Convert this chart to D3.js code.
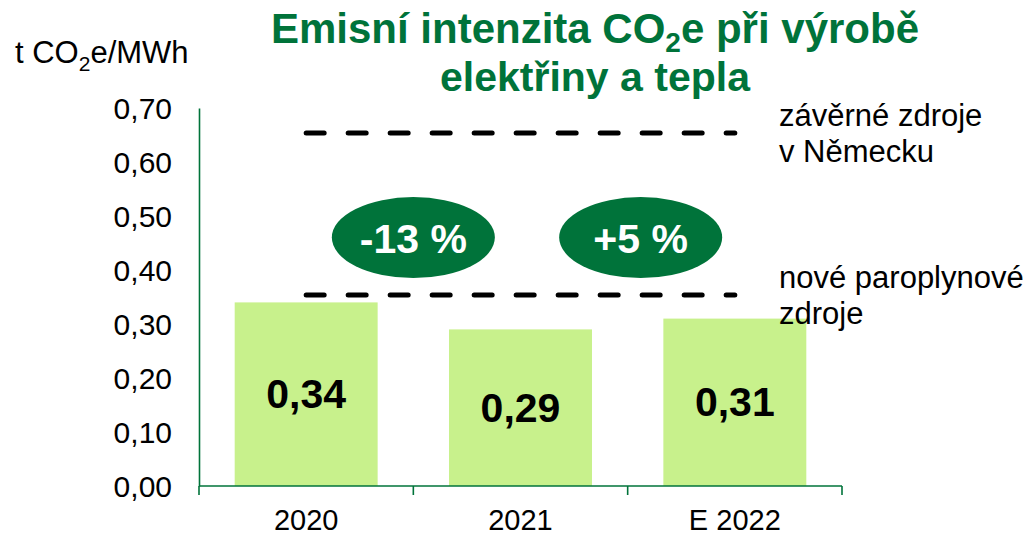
<!DOCTYPE html>
<html>
<head>
<meta charset="utf-8">
<script src="https://cdn.jsdelivr.net/npm/d3@7"></script>
<style>
  html, body { margin: 0; padding: 0; background: #fff; }
  svg { display: block; font-family: "Liberation Sans", Arial, sans-serif; }
</style>
</head>
<body>
<svg id="chart" width="1035" height="537"></svg>
<script>
// Emission intensity data (t CO2e/MWh)
const categories = ["2020", "2021", "E 2022"];
const values = [0.34, 0.29, 0.31];
const valueLabels = ["0,34", "0,29", "0,31"];
const yTicks = [0, 0.1, 0.2, 0.3, 0.4, 0.5, 0.6, 0.7];

// Benchmark levels shown as dashed lines
const refValues = [0.65, 0.35];
const refLabels = [["závěrné zdroje", "v Německu"], ["nové paroplynové", "zdroje"]];

// Year-on-year changes
const changeLabels = ["-13 %", "+5 %"];

const GREEN = "#00733A";
const BAR = "#C8F18C";

const svg = d3.select("#chart");

const x = d3.scaleBand()
  .domain(categories)
  .range([199, 842])
  .paddingInner(0.333)
  .paddingOuter(0.1665);

const y = d3.scaleLinear().domain([0, 0.7]).range([486, 108]);

// Title (two lines in one text block)
const title = svg.append("text")
  .attr("x", 595).attr("y", 43)
  .attr("text-anchor", "middle")
  .attr("font-size", 42).attr("font-weight", "bold")
  .attr("fill", GREEN);
title.append("tspan").text("Emisní intenzita CO");
title.append("tspan").attr("font-size", 28).attr("dy", 9).text("2");
title.append("tspan").attr("dy", -9).text("e při výrobě");
title.append("tspan")
  .attr("x", 595).attr("dy", 48)
  .attr("font-size", 41)
  .text("elektřiny a tepla");

// Unit label
const unit = svg.append("text")
  .attr("x", 15).attr("y", 63)
  .attr("font-size", 31).attr("fill", "#000");
unit.append("tspan").text("t CO");
unit.append("tspan").attr("font-size", 21).attr("dy", 8).text("2");
unit.append("tspan").attr("dy", -8).text("e/MWh");

// Bars
svg.append("g").selectAll("rect")
  .data(values)
  .join("rect")
  .attr("x", (d, i) => x(categories[i]))
  .attr("y", d => y(d))
  .attr("width", x.bandwidth())
  .attr("height", d => y(0) - y(d))
  .attr("fill", BAR);

// Y axis
const yAxis = svg.append("g")
  .attr("transform", "translate(199,0)")
  .call(d3.axisLeft(y)
    .tickValues(yTicks)
    .tickSize(0)
    .tickPadding(27)
    .tickFormat(d => d3.format(".2f")(d).replace(".", ",")));
yAxis.select(".domain").attr("stroke", GREEN).attr("stroke-width", 1.6);
yAxis.selectAll("text")
  .attr("font-size", 30)
  .attr("font-family", "Liberation Sans, Arial, sans-serif")
  .attr("fill", "#000")
  .attr("dy", "0.35em");

// X axis: baseline with ticks on category boundaries
const xAxis = svg.append("g").attr("transform", `translate(0,${y(0)})`);
xAxis.append("line")
  .attr("x1", x.range()[0]).attr("x2", x.range()[1])
  .attr("stroke", GREEN).attr("stroke-width", 1.6);
const bounds = categories.map(c => x(c) - x.step() * x.paddingInner() / 2)
  .concat([x.range()[1]]);
xAxis.selectAll("line.tick")
  .data(bounds)
  .join("line")
  .attr("class", "tick")
  .attr("x1", d => d).attr("x2", d => d)
  .attr("y1", 0).attr("y2", 9)
  .attr("stroke", GREEN).attr("stroke-width", 1.6);
xAxis.selectAll("text")
  .data(categories)
  .join("text")
  .attr("x", d => x(d) + x.bandwidth() / 2)
  .attr("y", 44)
  .attr("text-anchor", "middle")
  .attr("font-size", 29)
  .attr("fill", "#000")
  .text(d => d);

// Value labels inside the bars
svg.append("g").selectAll("text")
  .data(values)
  .join("text")
  .attr("x", (d, i) => x(categories[i]) + x.bandwidth() / 2)
  .attr("y", d => (y(d) + y(0)) / 2 + 14)
  .attr("text-anchor", "middle")
  .attr("font-size", 41).attr("font-weight", "bold")
  .attr("fill", "#000")
  .text((d, i) => valueLabels[i]);

// Dashed benchmark lines spanning first to last bar centre
const xStart = x(categories[0]) + x.bandwidth() / 2;
const xEnd = x(categories[categories.length - 1]) + x.bandwidth() / 2;
svg.append("g").selectAll("line")
  .data(refValues)
  .join("line")
  .attr("x1", xStart).attr("x2", xEnd)
  .attr("y1", d => y(d) - 2).attr("y2", d => y(d) - 2)
  .attr("stroke", "#000")
  .attr("stroke-width", 5)
  .attr("stroke-linecap", "round")
  .attr("stroke-dasharray", "18 24");

// Benchmark labels
refLabels.forEach((lines, i) => {
  const t = svg.append("text")
    .attr("x", 779)
    .attr("y", y(refValues[i]) - 9)
    .attr("font-size", 31)
    .attr("fill", "#000");
  lines.forEach((ln, j) => {
    t.append("tspan").attr("x", 779).attr("dy", j === 0 ? 0 : 36).text(ln);
  });
});

// Change badges between neighbouring years
const badgeShift = [0, 13];
const badgeY = y(0.46);
const badges = svg.append("g").selectAll("g")
  .data(changeLabels)
  .join("g")
  .attr("transform", (d, i) => `translate(${bounds[i + 1] + badgeShift[i]},${badgeY})`);
badges.append("ellipse")
  .attr("rx", 81.5).attr("ry", 40.5)
  .attr("fill", GREEN);
badges.append("text")
  .attr("text-anchor", "middle")
  .attr("y", 15)
  .attr("font-size", 41).attr("font-weight", "bold")
  .attr("fill", "#fff")
  .text(d => d);
</script>
</body>
</html>
